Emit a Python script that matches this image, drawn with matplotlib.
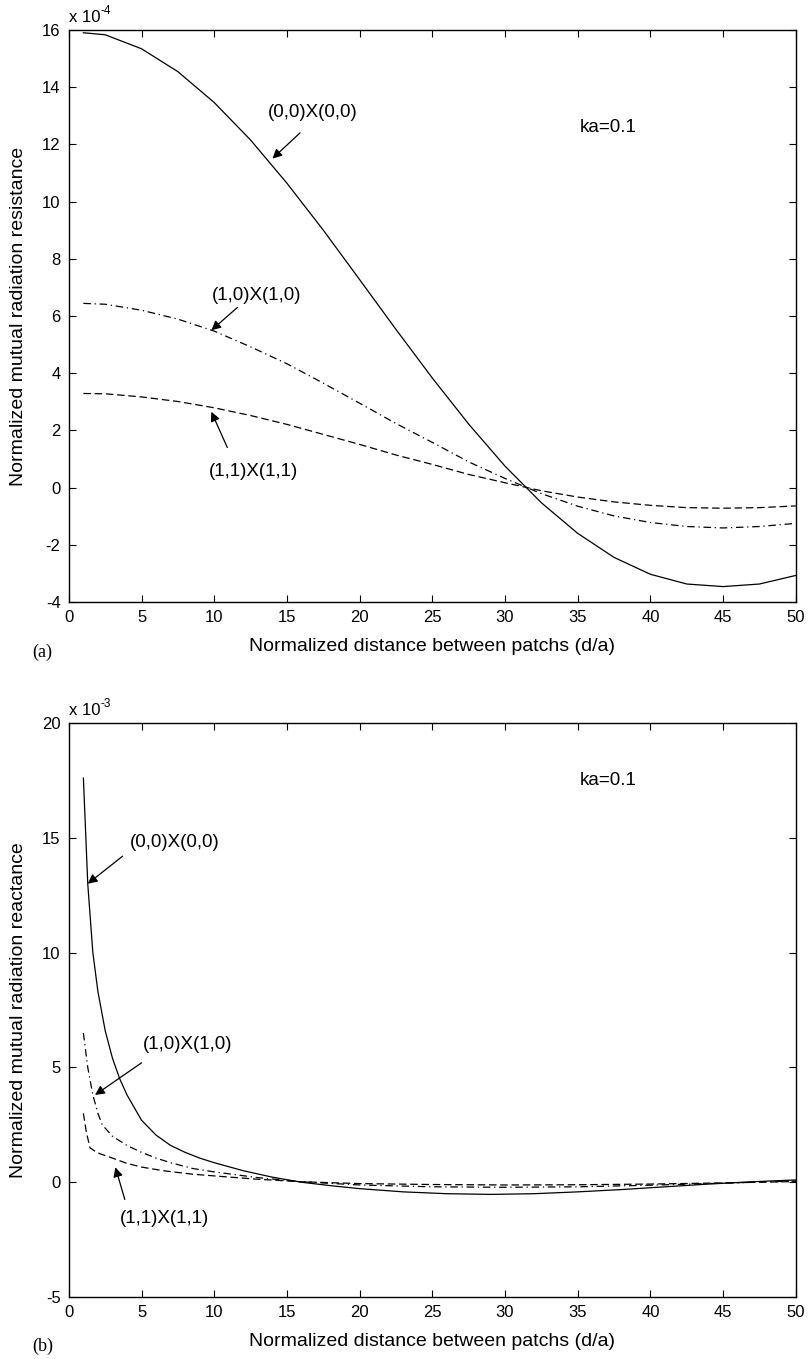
"""Mutual radiation resistance / reactance of two patches, ka = 0.1."""

import matplotlib

matplotlib.use("Agg")
import matplotlib.pyplot as plt

plt.rcParams["font.family"] = ["Liberation Sans", "DejaVu Sans"]
plt.rcParams["axes.unicode_minus"] = False

# (a) resistance, units of 1e-4
d_res = [1, 2.5, 5, 7.5, 10, 12.5, 15, 17.5, 20, 22.5, 25, 27.5, 30, 32.5,
         35, 37.5, 40, 42.5, 45, 47.5, 50]
res_00 = [15.9, 15.83, 15.34, 14.54, 13.46, 12.15, 10.64, 9.0, 7.27, 5.53,
          3.83, 2.22, 0.75, -0.53, -1.6, -2.44, -3.03, -3.37, -3.46, -3.37,
          -3.07]
res_10 = [6.44, 6.41, 6.2, 5.89, 5.47, 4.92, 4.33, 3.65, 2.95, 2.24, 1.58,
          0.9, 0.32, -0.21, -0.65, -0.99, -1.22, -1.36, -1.41, -1.36, -1.25]
res_11 = [3.29, 3.28, 3.17, 3.01, 2.79, 2.52, 2.21, 1.86, 1.51, 1.14, 0.81,
          0.46, 0.17, -0.11, -0.33, -0.5, -0.62, -0.7, -0.72, -0.7, -0.64]

# (b) reactance, units of 1e-3
d_x00 = [1, 1.3, 1.65, 2, 2.5, 3, 3.5, 4, 5, 6, 7, 8, 9, 10, 12, 14, 16, 18,
         20, 23, 26, 29, 32, 35, 38, 41, 44, 47, 50]
x_00 = [17.6, 13.0, 10.0, 8.3, 6.6, 5.4, 4.5, 3.8, 2.7, 2.05, 1.6, 1.3, 1.05,
        0.85, 0.5, 0.22, 0.0, -0.15, -0.28, -0.42, -0.5, -0.53, -0.5, -0.42,
        -0.32, -0.2, -0.08, 0.02, 0.1]
d_x10 = [1, 1.3, 1.65, 2, 2.3, 3, 3.5, 4, 5, 6, 7, 8.5, 10, 13, 16, 20, 25,
         30, 35, 40, 45, 50]
x_10 = [6.5, 5.0, 3.8, 3.0, 2.5, 2.0, 1.8, 1.6, 1.3, 1.05, 0.85, 0.6, 0.45,
        0.2, 0.02, -0.12, -0.2, -0.22, -0.2, -0.13, -0.04, 0.05]
d_x11 = [1, 1.2, 1.45, 1.8, 2.1, 3, 4, 5, 6.5, 8.5, 10.5, 13, 16, 20, 25, 30,
         35, 40, 45, 50]
x_11 = [3.0, 2.2, 1.5, 1.35, 1.25, 1.05, 0.82, 0.66, 0.5, 0.35, 0.25, 0.13,
        0.02, -0.06, -0.1, -0.12, -0.11, -0.08, -0.03, 0.03]

DASH = (0, (6, 3))
DASHDOT = (0, (6, 3, 1, 3))
XLABEL = "Normalized distance between patchs (d/a)"


def style_axes(ax, ylim, yticks, exponent):
    ax.set_xlim(0, 50)
    ax.set_ylim(*ylim)
    ax.set_xticks(range(0, 51, 5))
    ax.set_yticks(yticks)
    ax.tick_params(direction="in", length=5, width=0.8, top=True, right=True,
                   labelsize=12, pad=6)
    for sp in ax.spines.values():
        sp.set_linewidth(1.0)
    # MATLAB style exponent label above the top-left corner
    ax.text(0.0, 1.008, "x 10", transform=ax.transAxes,
            fontsize=12, ha="left", va="bottom")
    ax.text(0.0435, 1.022, str(exponent), transform=ax.transAxes,
            fontsize=8.5, ha="left", va="bottom")
    ax.set_xlabel(XLABEL, fontsize=14, labelpad=9)
    ax.yaxis.set_label_coords(-0.058, 0.5)


def note(ax, text, txy, tail, tip):
    ax.text(*txy, text, fontsize=13.5, ha="center", va="center")
    ax.annotate("", xy=tip, xytext=tail,
                arrowprops=dict(arrowstyle="-|>", color="k", lw=0.9,
                                mutation_scale=14, shrinkA=0, shrinkB=0))


fig = plt.figure(figsize=(8.1, 13.59), dpi=100)
ax1 = fig.add_axes([0.085, 0.557, 0.8975, 0.421])
ax2 = fig.add_axes([0.085, 0.0456, 0.8975, 0.4224])

ax1.plot(d_res, res_00, color="k", lw=0.9)
ax1.plot(d_res, res_10, color="k", lw=0.9, linestyle=DASHDOT)
ax1.plot(d_res, res_11, color="k", lw=0.9, linestyle=DASH)
ax1.set_ylabel("Normalized mutual radiation resistance", fontsize=14)
style_axes(ax1, (-4, 16), range(-4, 17, 2), -4)
ax1.text(37.1, 12.6, "ka=0.1", fontsize=13.5, ha="center", va="center")
note(ax1, "(0,0)X(0,0)", (16.8, 13.1), (15.9, 12.4), (14.0, 11.5))
note(ax1, "(1,0)X(1,0)", (12.9, 6.7), (11.6, 6.3), (9.8, 5.5))
note(ax1, "(1,1)X(1,1)", (12.7, 0.55), (10.9, 1.4), (9.8, 2.65))

ax2.plot(d_x00, x_00, color="k", lw=0.9)
ax2.plot(d_x10, x_10, color="k", lw=0.9, linestyle=DASHDOT)
ax2.plot(d_x11, x_11, color="k", lw=0.9, linestyle=DASH)
ax2.set_ylabel("Normalized mutual radiation reactance", fontsize=14)
style_axes(ax2, (-5, 20), range(-5, 21, 5), -3)
ax2.text(37.1, 17.5, "ka=0.1", fontsize=13.5, ha="center", va="center")
note(ax2, "(0,0)X(0,0)", (7.3, 14.8), (3.7, 14.2), (1.3, 13.0))
note(ax2, "(1,0)X(1,0)", (8.2, 6.0), (5.0, 5.2), (1.8, 3.8))
note(ax2, "(1,1)X(1,1)", (6.6, -1.6), (3.85, -0.75), (3.2, 0.65))

fig.text(32 / 810, 1 - 652 / 1359, "(a)", family="Liberation Serif",
         fontsize=13, ha="left", va="center")
fig.text(32 / 810, 1 - 1346 / 1359, "(b)", family="Liberation Serif",
         fontsize=13, ha="left", va="center")

fig.savefig("out.png", dpi=100)
